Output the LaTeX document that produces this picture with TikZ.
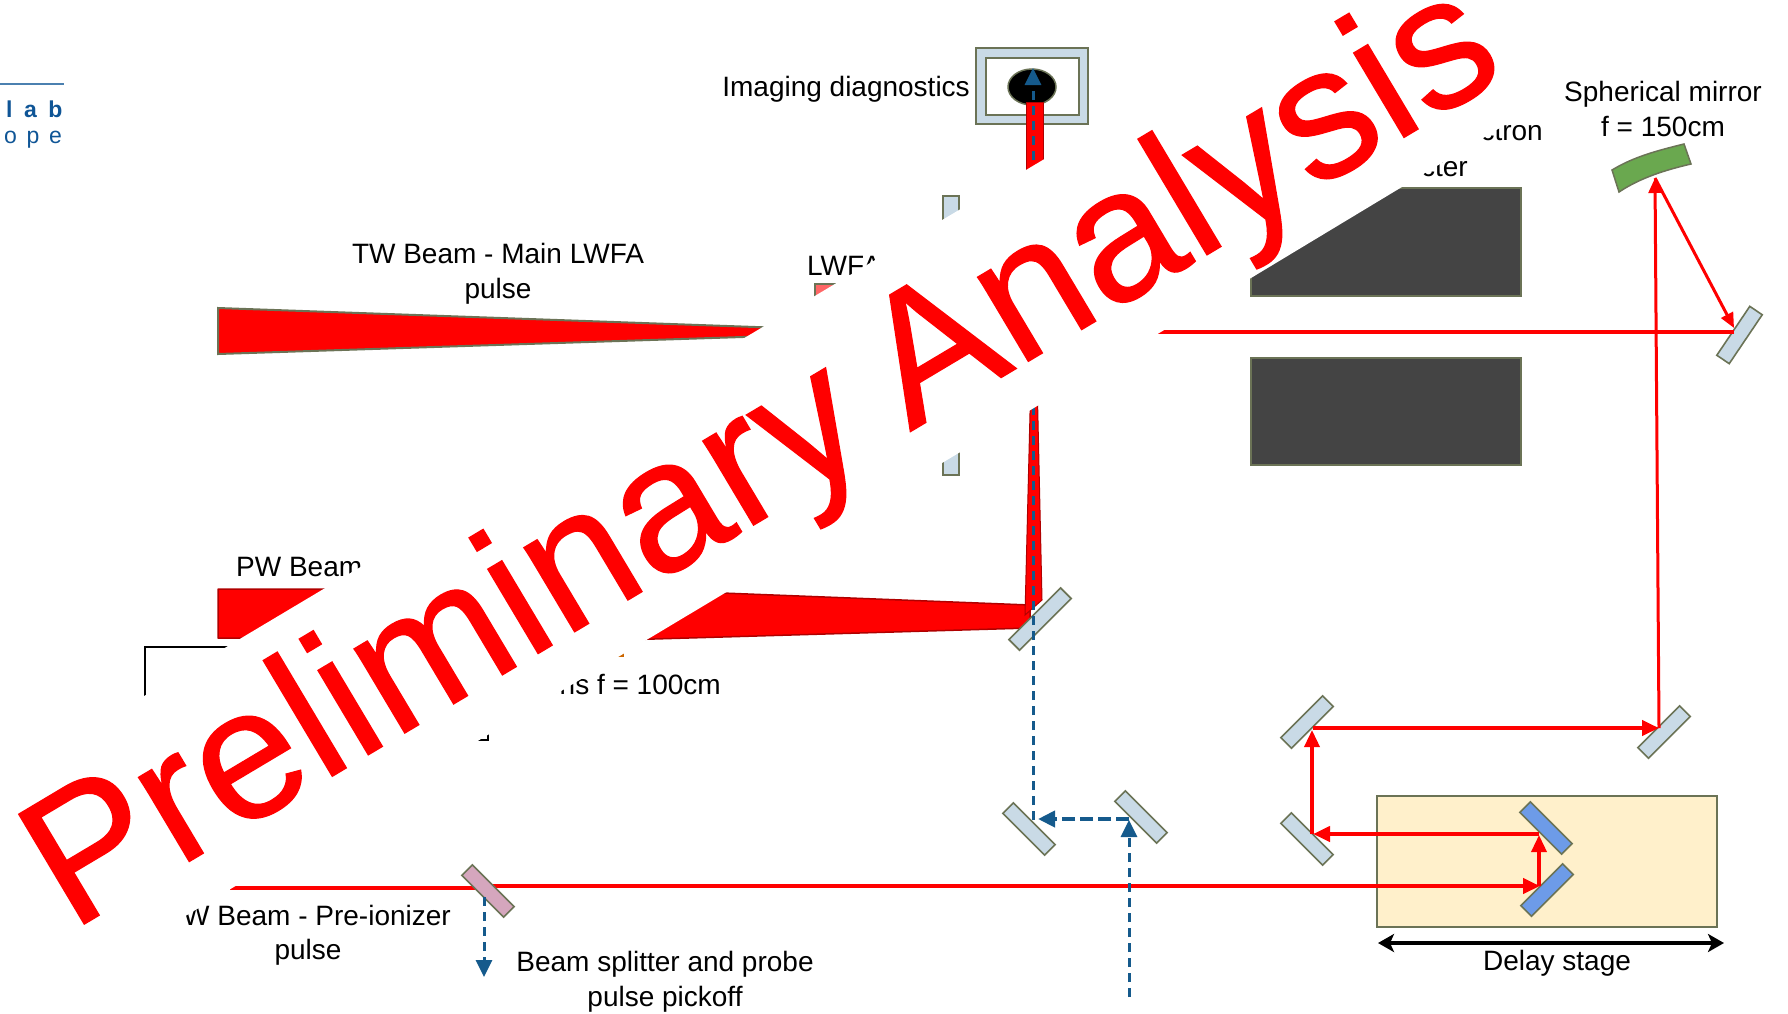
\documentclass[tikz,border=0pt]{standalone}
\usepackage{fontspec}
\setmainfont{Liberation Sans}
\usetikzlibrary{arrows.meta}
\definecolor{edge}{HTML}{6B7356}
\definecolor{mirrorblue}{HTML}{C9DAE6}
\definecolor{stageblue}{HTML}{6D9BE8}
\definecolor{probe}{HTML}{155A8C}
\definecolor{stagefill}{HTML}{FFF0CB}
\definecolor{blockgrey}{HTML}{444444}
\definecolor{logoblue}{HTML}{0F5596}
\definecolor{deepred}{HTML}{B00000}
\definecolor{sphgreen}{HTML}{6AA84F}
\definecolor{bspink}{HTML}{D5A6BD}
\newfontfamily\wmfont[FakeBold=0.7,LetterSpace=0.4]{Liberation Sans}
\tikzset{
  x=1pt,y=-1pt,
  lbl/.style={inner sep=0pt,align=center,font=\fontsize{28}{35}\selectfont,text=black},
  mirror/.style={rectangle,draw=edge,fill=mirrorblue,line width=1.6pt,minimum width=59pt,minimum height=15pt,inner sep=0pt},
  stagemirror/.style={mirror,fill=stageblue},
  splitter/.style={mirror,fill=#1},
  block/.style={draw=edge,fill=blockgrey,line width=2pt},
  redbeam/.style={draw=red,line width=#1,-{Triangle[length=17pt,width=15pt]}},
  plainbeam/.style={draw=red,line width=#1},
  probebeam/.style={draw=probe,line width=3pt,dash pattern=on 9pt off 6pt},
  probehead/.style={-{Triangle[length=17pt,width=16pt]}},
  bodyred/.style={fill=red,draw=deepred,line width=1.5pt,line join=round},
  bodytw/.style={fill=red,draw=edge,line width=2pt,line join=miter},
}
\begin{document}
\begin{tikzpicture}
\useasboundingbox (0,0) rectangle (1788,1013);
\clip (0,0) rectangle (1788,1013);
% logo
\coordinate (logoa) at (0,84);
\coordinate (logob) at (64,84);
\draw[draw=logoblue!75,line width=2pt] (logoa) -- (logob);
\node[anchor=base west,inner sep=0pt,text=logoblue,font=\fontsize{23}{23}\selectfont\bfseries\addfontfeature{LetterSpace=50}] (lab) at (6,117) {lab};
\node[anchor=base west,inner sep=0pt,text=logoblue,font=\fontsize{23}{23}\selectfont\addfontfeature{LetterSpace=42}] (ope) at (4,143) {ope};
% imaging
\path[draw=edge,fill=mirrorblue,line width=2pt] (976,48) rectangle (1088,124);
\path[draw=edge,fill=white,line width=2pt] (986,58) rectangle (1079,115);
\path[fill=black,draw=edge,line width=1.5pt] (1032,87) ellipse [x radius=24,y radius=18];
\path[bodyred,line width=1pt] (1026,102) -- (1043,102) -- (1043,200) -- (1026,200) -- cycle;
\node[lbl,anchor=east] (img) at (970,89) {Imaging diagnostics};
% top thin mirrors and target
\path[fill=mirrorblue,draw=edge,line width=1.6pt] (943,196) rectangle (959,260);
\path[fill=mirrorblue,draw=edge,line width=1.6pt] (943,400) rectangle (959,475);
\path[fill=red!60!white,draw=edge,line width=1.6pt] (815,284) rectangle (870,340);
% TW beam
\path[bodytw] (218,308) -- (897,332) -- (218,354) -- cycle;
\node[lbl] (twl) at (498,274) {TW Beam - Main LWFA\\pulse};
\node[lbl,anchor=west] (lwfa) at (807,266) {LWFA};
% PW beam
\path[bodyred] (218,589) -- (620,589) -- (1030,605) -- (1030,628) -- (620,640) -- (218,638) -- cycle;
\path[fill=red,draw=deepred,line width=1pt] (1025,615) -- (1032,332) -- (1036,332) -- (1042,600) -- cycle;
\node[lbl,anchor=west] (pw) at (236,567) {PW Beam};
\draw[black,line width=2pt] (145,647) rectangle (488,740);
\path[fill=orange!80!black] (618,630) rectangle (624,657);
\node[lbl,anchor=east] (lens) at (721,684) {ens f = 100cm};
% electron blocks
\path[block] (1251,188) rectangle (1521,296);
\path[block] (1251,358) rectangle (1521,465);
\node[lbl,anchor=east] (elec) at (1543,132) {ctron};
\node[lbl,anchor=east] (spec) at (1468,168) {cter};
\path[draw=edge,fill=sphgreen,line width=1.5pt]
  (1612,170) .. controls (1635,156) and (1660,150) .. (1684,144) -- (1691,164)
  .. controls (1665,170) and (1640,178) .. (1619,192) -- cycle;
% delay stage
\path[draw=edge,fill=stagefill,line width=2.5pt] (1377,796) rectangle (1717,927);
\node[stagemirror,rotate=-45] (d1) at (1546,828) {};
\node[stagemirror,rotate=45] (d2) at (1547,890) {};
\coordinate (dl) at (1378,943);
\coordinate (dr) at (1724,943);
\draw[black,line width=4pt,{Stealth[length=16pt,width=18pt,inset=4pt]}-{Stealth[length=16pt,width=18pt,inset=4pt]}] (dl) -- (dr);
\node[lbl] (dlab) at (1557,963) {Delay stage};
% mirrors
\node[mirror,rotate=45,minimum width=73pt] (m1) at (1040,619) {};
\node[mirror,rotate=-45] (m2) at (1029,829) {};
\node[mirror,rotate=-45] (m3) at (1141,817) {};
\node[mirror,rotate=45] (m4) at (1307,722) {};
\node[mirror,rotate=45] (m5) at (1664,732) {};
\node[mirror,rotate=-45] (m6) at (1307,839) {};
\node[mirror,rotate=56] (m7) at (1739.5,335) {};
% red connectors
\coordinate (start) at (230,888);
\coordinate (ps) at (488,886);
\coordinate (pd2) at (1540,886);
\coordinate (pd2b) at (1539,886);
\coordinate (pd1) at (1539,835);
\coordinate (pd1b) at (1539,834);
\coordinate (pm6) at (1313,834);
\coordinate (pm6b) at (1312,834);
\coordinate (pm4) at (1312,730);
\coordinate (pm4b) at (1313,728);
\coordinate (pm5) at (1659,728);
\coordinate (pm5b) at (1659,728);
\coordinate (psph) at (1655,178);
\coordinate (pm7) at (1734,328);
\coordinate (pm7b) at (1734,332);
\coordinate (far) at (1100,332);
\draw[plainbeam=4pt] (start) -- (480,888);
\draw[redbeam=4pt] (ps) -- (pd2);
\draw[redbeam=3.5pt] (pd2b) -- (pd1);
\draw[redbeam=4pt] (pd1b) -- (pm6);
\draw[redbeam=3.5pt] (pm6b) -- (pm4);
\draw[redbeam=4pt] (pm4b) -- (pm5);
\draw[redbeam=3pt,-{Triangle[length=15pt,width=13pt]}] (pm5b) -- (psph);
\draw[redbeam=3pt,-{Triangle[length=15pt,width=13pt]}] (psph) -- (pm7);
\draw[plainbeam=4pt] (pm7b) -- (far);
% splitter
\node[splitter=bspink,rotate=-45] (bs) at (488,891) {};
\node[lbl] (wl) at (451,915) [anchor=east] {PW Beam - Pre-ionizer};
\node[lbl] (wp) at (308,952) {pulse};
\node[lbl] (bsl) at (665,982) {Beam splitter and probe\\pulse pickoff};
% probe connectors
\coordinate (pa) at (484,897);
\coordinate (pb) at (484,977);
\coordinate (pc) at (1129,997);
\coordinate (pd) at (1129,820);
\coordinate (pe) at (1129,819);
\coordinate (pf) at (1038,819);
\coordinate (pg) at (1033,820);
\coordinate (ph) at (1033,68);
\draw[probebeam,probehead] (pa) -- (pb);
\draw[probebeam,probehead] (pc) -- (pd);
\draw[probebeam,line width=4pt,dash pattern=on 13pt off 5pt,probehead] (pe) -- (pf);
\draw[probebeam,probehead] (pg) -- (ph);
% watermark
\path[fill=white] (0,782) -- (1311,0) -- (1712,0) -- (1251,278) -- (0,1027) -- cycle;
\node[lbl] (sph) at (1663,109) {Spherical mirror\\f = 150cm};
\node[anchor=base west,inner sep=0pt,rotate=30.8,text=red,font=\wmfont\fontsize{186}{186}\selectfont] (wm) at (71,932) {Preliminary\hspace{-13pt} Analysis};
\end{tikzpicture}
\end{document}
